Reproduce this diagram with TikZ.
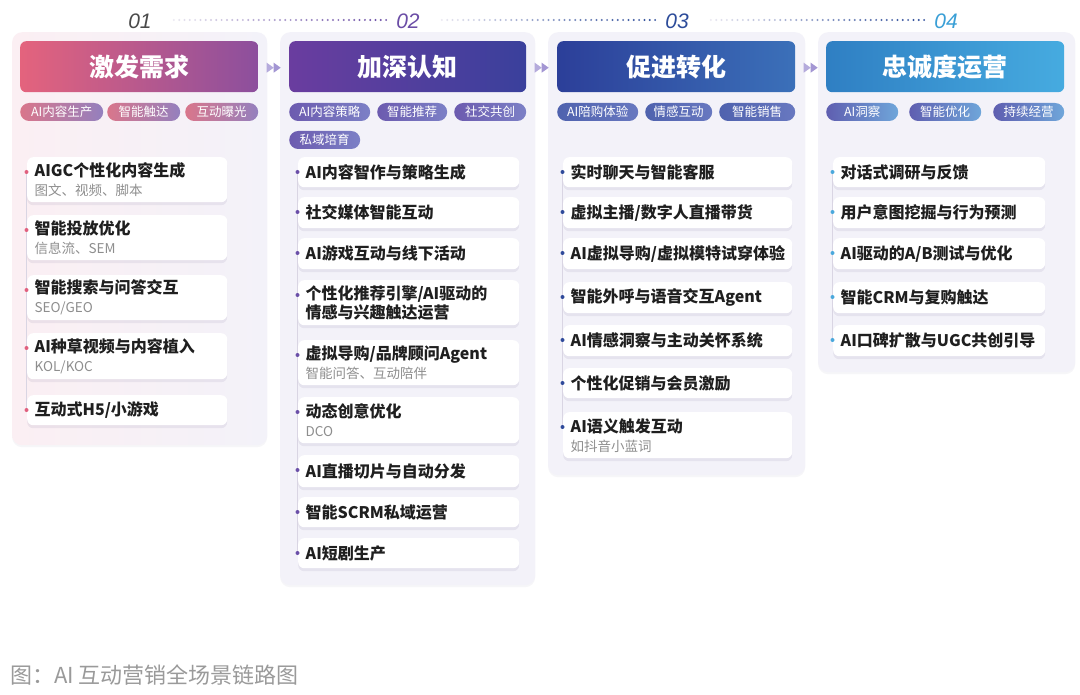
\documentclass[tikz,border=0pt]{standalone}
\usepackage{fontspec}
\setmainfont{Noto Sans CJK SC}
\newfontfamily\numfont{Liberation Sans}
\usetikzlibrary{calc,shadows}
\definecolor{h1l}{HTML}{E4637D}\definecolor{h1r}{HTML}{8C4F9D}
\definecolor{h2l}{HTML}{6A3D9F}\definecolor{h2r}{HTML}{3A409C}
\definecolor{h3l}{HTML}{2C3F99}\definecolor{h3r}{HTML}{3B70B9}
\definecolor{h4l}{HTML}{2F7FC3}\definecolor{h4r}{HTML}{46ABE0}
\definecolor{t1l}{HTML}{D9768B}\definecolor{t1r}{HTML}{9480BE}
\definecolor{t2l}{HTML}{6C5BAF}\definecolor{t2r}{HTML}{7C80C6}
\definecolor{t3l}{HTML}{4F62AE}\definecolor{t3r}{HTML}{6878C0}
\definecolor{t4l}{HTML}{5F5EB0}\definecolor{t4r}{HTML}{6FA6DA}
\definecolor{d1}{HTML}{E0607E}\definecolor{d2}{HTML}{6A4FA8}
\definecolor{d3}{HTML}{2F4A9A}\definecolor{d4}{HTML}{4AA8DC}
\definecolor{n1c}{HTML}{4A4A4A}\definecolor{n2c}{HTML}{6B4DA6}
\definecolor{n3c}{HTML}{2D4C9A}\definecolor{n4c}{HTML}{3A9FD6}
\definecolor{panelc}{HTML}{F3F2F9}\definecolor{panelp}{HTML}{FBEFF3}
\definecolor{subgray}{HTML}{8E8E8E}\definecolor{titlec}{HTML}{1F1F1F}
\definecolor{capgray}{HTML}{9A9A9A}\definecolor{chevc}{HTML}{A396D3}
\definecolor{dotlt}{HTML}{E8E6F0}\definecolor{vline}{HTML}{D9D5E3}
\definecolor{shadc}{HTML}{5A5080}
\newcommand\subt[1]{{\mdseries\fontsize{13.5}{19}\selectfont\color{subgray}#1}}
\newcommand\mkcard[6]{%
  \node[card, minimum width=#4pt, minimum height=#5pt, anchor=north west] (#1) at (#2,#3) {};
  \node[cardtxt, anchor=west] (#1t) at ($(#1.west)+(7.5,0)$) {#6};
}
\newcommand\mkpill[7]{%
  \node[pill, minimum width=#4pt, anchor=west, left color=#6, right color=#7] (#1) at (#2,#3) {#5};
}
\begin{document}
\begin{tikzpicture}[x=1pt,y=-1pt,
  panel/.style={rectangle, rounded corners=10pt, minimum width=255pt, inner sep=0pt, draw=none,
     drop shadow={shadow xshift=0pt, shadow yshift=-2pt, opacity=0.05, fill=shadc}},
  hdr/.style={rectangle, rounded corners=6pt, minimum height=51pt, inner sep=0pt, text=white,
     font=\fontsize{25}{30}\selectfont\bfseries},
  pill/.style={rectangle, rounded corners=9pt, minimum height=18pt, inner sep=0pt, text=white,
     font=\fontsize{12.5}{14}\selectfont},
  card/.style={rectangle, rounded corners=6pt, fill=white, inner sep=0pt,
     drop shadow={shadow xshift=0pt, shadow yshift=-3pt, opacity=0.09, fill=shadc}},
  cardtxt/.style={inner sep=0pt, align=left, text=titlec, font=\fontsize{16}{19}\selectfont\bfseries},
  bul/.style={circle, inner sep=0pt, minimum size=4pt},
  num/.style={inner sep=0pt, font=\numfont\itshape\fontsize{21}{24}\selectfont},
]
\useasboundingbox[fill=white] (0,0) rectangle (1080,695);

% panels
\node[panel, minimum height=413pt, anchor=north west, left color=panelp, right color=panelc] (p1) at (12,32) {};
\node[panel, minimum height=553pt, anchor=north west, fill=panelc] (p2) at (280,32) {};
\node[panel, minimum width=257pt, minimum height=443pt, anchor=north west, fill=panelc] (p3) at (548,32) {};
\node[panel, minimum width=257pt, minimum height=340pt, anchor=north west, fill=panelc] (p4) at (818,32) {};

% numbers
\node[num, text=n1c] (n1) at (140,21) {01};
\node[num, text=n2c] (n2) at (408,21) {02};
\node[num, text=n3c] (n3) at (677,21) {03};
\node[num, text=n4c] (n4) at (946,21) {04};
\coordinate (a1) at ($(n1.east)+(22,-1)$); \coordinate (b1) at ($(n2.west)+(-10,-1)$);
\coordinate (a2) at ($(n2.east)+(22,-1)$); \coordinate (b2) at ($(n3.west)+(-10,-1)$);
\coordinate (a3) at ($(n3.east)+(22,-1)$); \coordinate (b3) at ($(n4.west)+(-10,-1)$);
\foreach \s/\e/\c in {a1/b1/n2c, a2/b2/n3c, a3/b3/n3c}{
  \foreach \i in {0,...,40}{
    \pgfmathtruncatemacro\p{100*\i/40}
    \fill[\c!\p!dotlt] ($(\s)!\i/40!(\e)$) circle (1.1pt);
  }
}

% headers
\node[hdr, minimum width=238pt, anchor=north west, left color=h1l, right color=h1r] (h1) at (20,41) {激发需求};
\node[hdr, minimum width=237pt, anchor=north west, left color=h2l, right color=h2r] (h2) at (289,41) {加深认知};
\node[hdr, minimum width=238pt, anchor=north west, left color=h3l, right color=h3r] (h3) at (557,41) {促进转化};
\node[hdr, minimum width=238pt, anchor=north west, left color=h4l, right color=h4r] (h4) at (826,41) {忠诚度运营};

% chevrons
\foreach \u/\v in {h1/h2, h2/h3, h3/h4}{
  \coordinate (m\u) at ($(\u.east)!0.5!(\v.west)+(2,1)$);
  \fill[chevc!80] ($(m\u)+(-9,-5)$) -- ($(m\u)+(-2,0)$) -- ($(m\u)+(-9,5)$) -- cycle;
  \fill[chevc] ($(m\u)+(-2,-5)$) -- ($(m\u)+(5,0)$) -- ($(m\u)+(-2,5)$) -- cycle;
}

% tags
\mkpill{g11}{20}{112}{83}{AI内容生产}{t1l}{t1r}
\mkpill{g12}{107}{112}{73}{智能触达}{t1l}{t1r}
\mkpill{g13}{185}{112}{73}{互动曝光}{t1l}{t1r}
\mkpill{g21}{289}{112}{81}{AI内容策略}{t2l}{t2r}
\mkpill{g22}{377}{112}{70}{智能推荐}{t2l}{t2r}
\mkpill{g23}{454}{112}{72}{社交共创}{t2l}{t2r}
\mkpill{g24}{289}{140}{71}{私域培育}{t2l}{t2r}
\mkpill{g31}{557}{112}{81}{AI陪购体验}{t3l}{t3r}
\mkpill{g32}{645}{112}{67}{情感互动}{t3l}{t3r}
\mkpill{g33}{719}{112}{76}{智能销售}{t3l}{t3r}
\mkpill{g41}{826}{112}{72}{AI洞察}{t4l}{t4r}
\mkpill{g42}{909}{112}{72}{智能优化}{t4l}{t4r}
\mkpill{g43}{993}{112}{71}{持续经营}{t4l}{t4r}

% column 1 cards
\mkcard{c11}{27}{157}{200}{45}{AIGC个性化内容生成\\\subt{图文、视频、脚本}}
\mkcard{c12}{27}{215}{200}{45}{智能投放优化\\\subt{信息流、SEM}}
\mkcard{c13}{27}{275}{200}{45}{智能搜索与问答交互\\\subt{SEO/GEO}}
\mkcard{c14}{27}{333}{200}{46}{AI种草视频与内容植入\\\subt{KOL/KOC}}
\mkcard{c15}{27}{395}{200}{30}{互动式H5/小游戏}

% column 2 cards
\mkcard{c21}{298}{157}{221}{30}{AI内容智作与策略生成}
\mkcard{c22}{298}{197}{221}{31}{社交媒体智能互动}
\mkcard{c23}{298}{238}{221}{31}{AI游戏互动与线下活动}
\mkcard{c24}{298}{280}{221}{45}{个性化推荐引擎/AI驱动的\\情感与兴趣触达运营}
\mkcard{c25}{298}{340}{221}{45}{虚拟导购/品牌顾问Agent\\\subt{智能问答、互动陪伴}}
\mkcard{c26}{298}{397}{221}{46}{动态创意优化\\\subt{DCO}}
\mkcard{c27}{298}{455}{221}{32}{AI直播切片与自动分发}
\mkcard{c28}{298}{497}{221}{30}{智能SCRM私域运营}
\mkcard{c29}{298}{538}{221}{30}{AI短剧生产}

% column 3 cards
\mkcard{c31}{563}{157}{229}{30}{实时聊天与智能客服}
\mkcard{c32}{563}{197}{229}{31}{虚拟主播/数字人直播带货}
\mkcard{c33}{563}{238}{229}{31}{AI虚拟导购/虚拟模特试穿体验}
\mkcard{c34}{563}{282}{229}{31}{智能外呼与语音交互Agent}
\mkcard{c35}{563}{325}{229}{31}{AI情感洞察与主动关怀系统}
\mkcard{c36}{563}{368}{229}{30}{个性化促销与会员激励}
\mkcard{c37}{563}{412}{229}{46}{AI语义触发互动\\\subt{如抖音小蓝词}}

% column 4 cards
\mkcard{c41}{833}{157}{212}{30}{对话式调研与反馈}
\mkcard{c42}{833}{197}{212}{31}{用户意图挖掘与行为预测}
\mkcard{c43}{833}{238}{212}{31}{AI驱动的A/B测试与优化}
\mkcard{c44}{833}{282}{212}{31}{智能CRM与复购触达}
\mkcard{c45}{833}{325}{212}{31}{AI口碑扩散与UGC共创引导}

% timeline lines and bullets
\foreach \f/\l/\n/\dc in {c11/c15/{c11,c12,c13,c14,c15}/d1,
                          c21/c29/{c21,c22,c23,c24,c25,c26,c27,c28,c29}/d2,
                          c31/c37/{c31,c32,c33,c34,c35,c36,c37}/d3,
                          c41/c45/{c41,c42,c43,c44,c45}/d4}{
  \draw[vline, line width=0.7pt] ($(\f.north west)+(-0.5,15)$) -- ($(\l.north west)+(-0.5,15)$);
  \foreach \c in \n {
    \node[bul, fill=\dc] (\c d) at ($(\c.north west)+(-0.5,15)$) {};
  }
}

% caption
\node[inner sep=0pt, anchor=west, text=capgray, font=\fontsize{22}{26}\selectfont] (cap) at (10,675) {图：AI 互动营销全场景链路图};
\end{tikzpicture}
\end{document}
